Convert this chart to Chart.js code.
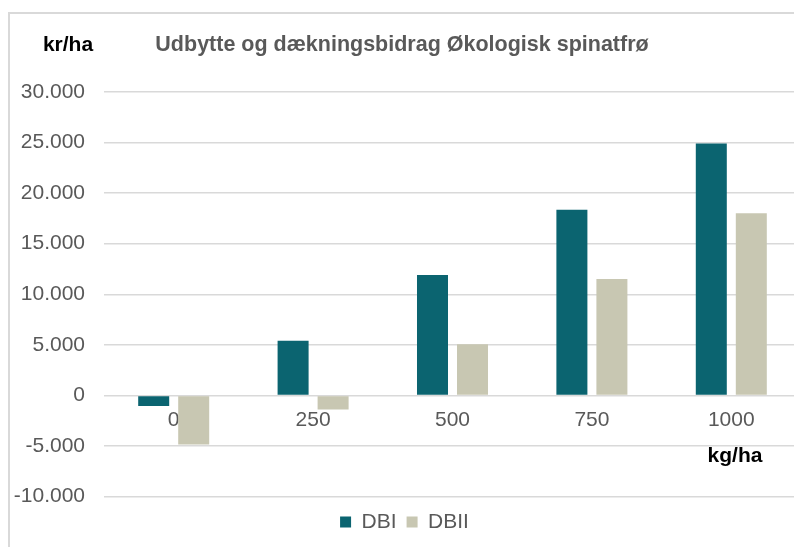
<!DOCTYPE html>
<html lang="da">
<head>
<meta charset="utf-8">
<title>Udbytte og dækningsbidrag Økologisk spinatfrø</title>
<script src="https://cdn.jsdelivr.net/npm/chart.js@4/dist/chart.umd.min.js"></script>
<style>
  html, body { margin:0; padding:0; background:#fff; overflow:hidden; width:794px; height:547px; }
  #frame { position:absolute; left:8px; top:12px; width:1000px; height:1000px;
           border-top:2px solid #d9d9d9; border-left:2px solid #d9d9d9; }
  #c { position:absolute; left:0; top:0; }
</style>
</head>
<body>
<div id="frame"></div>
<canvas id="c" width="810" height="547"></canvas>
<script>
/* Udbytte og dækningsbidrag, økologisk spinatfrø (kr/ha per kg/ha udbytte) */
const categories = ["0", "250", "500", "750", "1000"];
const dbi  = [-1050, 5400, 11900, 18350, 24900];
const dbii = [-4850, -1400, 5050, 11500, 18000];
const yMin = -10000, yMax = 30000, yStep = 5000;

const TITLE = "Udbytte og dækningsbidrag Økologisk spinatfrø";
const C = { dbi:"#0b6470", dbii:"#c8c7b2", grid:"#d9d9d9", text:"#595959", dark:"#000000" };
const FONT = '"Liberation Sans", Arial, sans-serif';

// 30000 -> "30.000", -5000 -> "-5.000"
const fmt = v => (v < 0 ? "-" : "") + String(Math.abs(v)).replace(/\B(?=(\d{3})+(?!\d))/g, ".");

// title + axis unit labels, placed like the Excel original
const extraText = {
  id: "extraText",
  afterDraw(chart){
    const ctx = chart.ctx;
    ctx.save();
    ctx.textBaseline = "middle";
    ctx.textAlign = "center";
    ctx.font = `bold 21.5px ${FONT}`;
    ctx.fillStyle = C.text;
    ctx.fillText(TITLE, 402, 45);
    ctx.font = `bold 21px ${FONT}`;
    ctx.fillStyle = C.dark;
    ctx.fillText("kr/ha", 68, 45);
    ctx.fillText("kg/ha", 735, 456);
    ctx.restore();
  }
};

new Chart(document.getElementById("c"), {
  type: "bar",
  data: {
    labels: categories,
    datasets: [
      { label:"DBI",  data:dbi,  backgroundColor:C.dbi  },
      { label:"DBII", data:dbii, backgroundColor:C.dbii }
    ]
  },
  options: {
    responsive:false, animation:false,
    categoryPercentage:0.574, barPercentage:0.775,
    layout:{ padding:{ left:8, right:9, top:92, bottom:4.5 } },
    plugins:{
      title:{ display:false },
      tooltip:{ enabled:false },
      legend:{
        position:"bottom",
        // empty legend title only used as a small spacer above the items
        title:{ display:true, text:"", padding:0, font:{ size:5, lineHeight:1.0 } },
        labels:{ boxWidth:11, boxHeight:11, padding:10, color:C.text, font:{ family:FONT, size:21 } }
      }
    },
    scales:{
      x:{
        position:{ y:0 },
        grid:{ display:false, drawTicks:false },
        border:{ display:false },
        ticks:{ padding:12, color:C.text, font:{ family:FONT, size:21 } }
      },
      y:{
        min:yMin, max:yMax,
        afterFit: s => { s.width = 96; },
        grid:{ color:C.grid, lineWidth:1.5, drawTicks:false },
        border:{ display:false },
        ticks:{ stepSize:yStep, padding:19, color:C.text, font:{ family:FONT, size:21 }, callback: v => fmt(v) }
      }
    }
  },
  plugins:[extraText]
});
</script>
</body>
</html>
